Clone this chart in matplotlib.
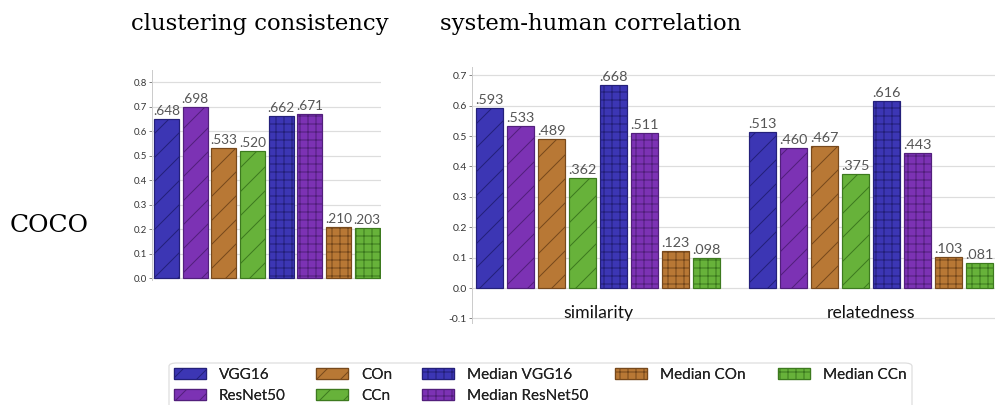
import numpy as np
import matplotlib
matplotlib.use("Agg")
import matplotlib.pyplot as plt
from matplotlib.patches import Patch, FancyBboxPatch

# series names, in legend order
names = ["VGG16", "ResNet50", "COn", "CCn",
         "Median VGG16", "Median ResNet50", "Median COn", "Median CCn"]

# clustering consistency (COCO)
clustering = [0.648, 0.698, 0.533, 0.520, 0.662, 0.671, 0.210, 0.203]

# system-human correlation (COCO)
similarity = [0.593, 0.533, 0.489, 0.362, 0.668, 0.511, 0.123, 0.098]
relatedness = [0.513, 0.460, 0.467, 0.375, 0.616, 0.443, 0.103, 0.081]
groups = ["similarity", "relatedness"]

fills = ["#3c36b4", "#7c32b4", "#b87835", "#67b23a"] * 2
edges = ["#24207a", "#521f7c", "#77491c", "#3d7a1f"] * 2
hatches = ["//"] * 4 + ["+++"] * 4

plt.rcParams["font.family"] = ["Lato", "DejaVu Sans"]
plt.rcParams["hatch.linewidth"] = 0.5

DPI = 144
fig = plt.figure(figsize=(995 / DPI, 405 / DPI), dpi=DPI)


def px(x0, y0, x1, y1):
    # pixel box (top-left origin) -> figure fraction rect
    return [x0 / 995, 1 - y1 / 405, (x1 - x0) / 995, (y1 - y0) / 405]


def style(ax, size):
    for s in ["top", "right", "bottom"]:
        ax.spines[s].set_visible(False)
    ax.spines["left"].set_color("#cccccc")
    ax.spines["left"].set_linewidth(0.5)
    ax.yaxis.grid(True, color="#dddddd", linewidth=0.6)
    ax.set_axisbelow(True)
    ax.set_xticks([])
    ax.tick_params(axis="y", labelsize=size, length=1.5, width=0.5,
                   color="#888888", labelcolor="#333333", pad=1)


def label(v):
    return f"{v:.3f}".lstrip("0")


# ---- left: clustering consistency
ax1 = fig.add_axes(px(152, 70, 381, 280))
x = np.arange(len(clustering))
bars = ax1.bar(x, clustering, width=0.87, color=fills, edgecolor=edges,
               linewidth=0.6)
for b, h in zip(bars, hatches):
    b.set_hatch(h)
ax1.bar_label(bars, labels=[label(v) for v in clustering], padding=1,
              fontsize=6.8, color="#555555")
ax1.set_xlim(-0.5, 7.48)
ax1.set_ylim(-0.008, 0.85)
ax1.set_yticks(np.arange(0, 0.81, 0.1))
ax1.yaxis.set_major_formatter(lambda v, p: f"{v:.1f}")
style(ax1, 4.8)

# ---- right: system-human correlation
ax2 = fig.add_axes(px(472, 67, 995, 323))
offset = 8.8
for g, vals in enumerate([similarity, relatedness]):
    xs = np.arange(len(vals)) + g * offset
    bars = ax2.bar(xs, vals, width=0.88, color=fills, edgecolor=edges,
                   linewidth=0.6)
    for b, h in zip(bars, hatches):
        b.set_hatch(h)
    ax2.bar_label(bars, labels=[label(v) for v in vals], padding=1,
                  fontsize=7.2, color="#555555")
    ax2.text(g * offset + 3.5, -0.083, groups[g], ha="center", va="center",
             fontsize=8.8, color="#111111")
ax2.set_xlim(-0.57, 16.3)
ax2.set_ylim(-0.115, 0.727)
ax2.set_yticks(np.arange(-0.1, 0.71, 0.1))
ax2.yaxis.set_major_formatter(lambda v, p: f"{v:.1f}")
style(ax2, 5.2)

# ---- titles
serif = ["DejaVu Serif"]
fig.text(131 / 995, 1 - 24 / 405, "clustering consistency", family=serif,
         fontsize=11.4, ha="left", va="center")
fig.text(440 / 995, 1 - 24 / 405, "system-human correlation", family=serif,
         fontsize=11.4, ha="left", va="center")
fig.text(10 / 995, 1 - 226 / 405, "COCO", family=serif, fontsize=12.5,
         ha="left", va="center")

# ---- legend: one column at a time so the columns sit where they do in the original
handles = [Patch(facecolor=fills[i], edgecolor=edges[i], hatch=hatches[i],
                 linewidth=0.6) for i in range(len(names))]
columns = [[0, 1], [2, 3], [4, 5], [6], [7]]
col_x = [174, 316, 422, 615, 778]
for idx, cx in zip(columns, col_x):
    leg = fig.legend([handles[i] for i in idx], [names[i] for i in idx],
                     loc="upper left", bbox_to_anchor=(cx / 995, 1 - 368 / 405),
                     fontsize=7.6, frameon=False, handlelength=2.1,
                     handleheight=0.72, handletextpad=0.85, labelspacing=0.45,
                     borderpad=0, borderaxespad=0)
    for t in leg.get_texts():
        t.set_color("#222222")
    fig.add_artist(leg)

frame = FancyBboxPatch((169 / 995, -0.05), (912 - 169) / 995, 0.05 + (405 - 363) / 405,
                       boxstyle="round,pad=0,rounding_size=0.008",
                       transform=fig.transFigure, facecolor="none",
                       edgecolor="#dddddd", linewidth=0.6)
fig.add_artist(frame)

fig.savefig("out.png", dpi=DPI)
